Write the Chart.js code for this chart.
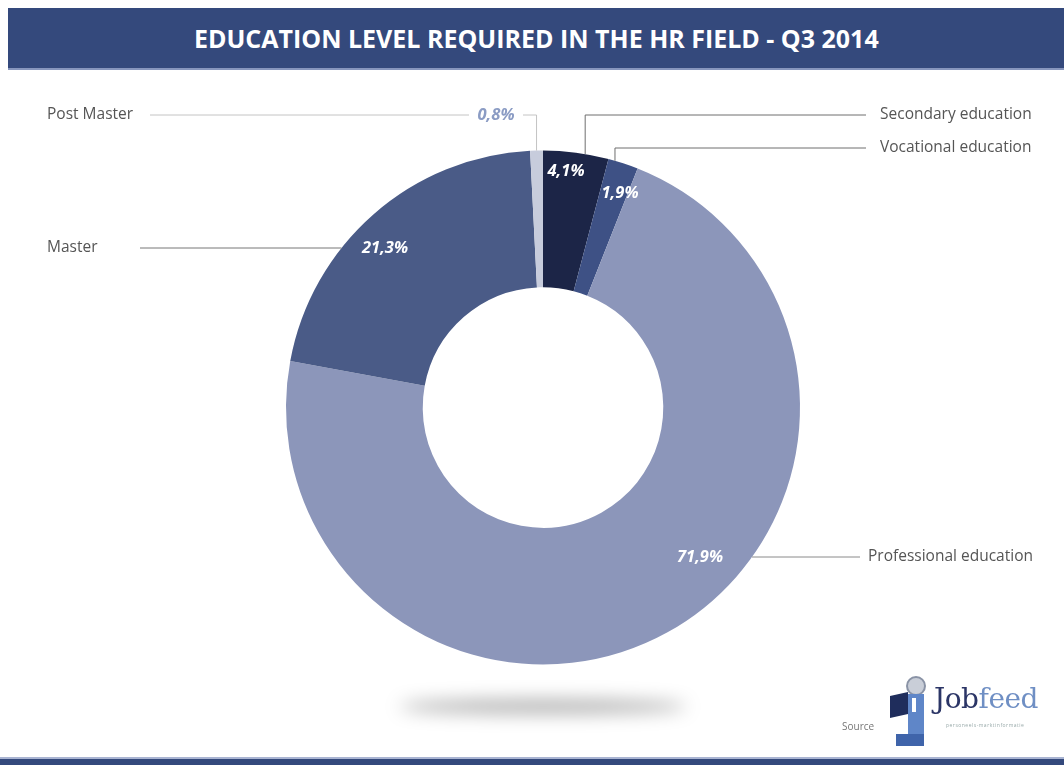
<!DOCTYPE html>
<html>
<head>
<meta charset="utf-8">
<script src="https://cdn.jsdelivr.net/npm/chart.js@4.4.1/dist/chart.umd.min.js"></script>
<style>
  html,body{margin:0;padding:0;background:#fff;width:1064px;height:765px;overflow:hidden;font-family:"Open Sans",sans-serif;}
  #titlebar{position:absolute;left:8px;top:8px;width:1056px;height:60px;background:#34497c;border-bottom:2px solid #8796bd;}
  #title{position:absolute;left:0;top:0;width:1056px;height:60px;line-height:60px;text-align:center;color:#fff;font-weight:700;font-size:25.5px;white-space:nowrap;}
  #title span{display:inline-block;transform:scaleX(0.98);transform-origin:center;}
  #bottombar{position:absolute;left:0;top:757px;width:1064px;height:8px;background:#34497c;border-top:2px solid #a9b4d2;}
  #wrap{position:absolute;left:0;top:0;width:1064px;height:765px;}
  #source{position:absolute;left:842px;top:719px;font-size:10px;color:#777;}
  #logo{position:absolute;left:888px;top:672px;width:170px;height:80px;}
  #jobfeed{position:absolute;left:46px;top:10px;font-family:"DejaVu Serif",serif;font-size:28px;letter-spacing:-0.5px;}
  #jobfeed .a{color:#2b3566;} #jobfeed .b{color:#6f8fc4;}
  #tag{position:absolute;left:58px;top:50px;font-size:5px;color:#9aa;letter-spacing:0.5px;}
</style>
</head>
<body>
<div id="wrap"><canvas id="c" width="1064" height="765"></canvas></div>
<div id="titlebar"><div id="title"><span>EDUCATION LEVEL REQUIRED IN THE HR FIELD - Q3 2014</span></div></div>
<div id="bottombar"></div>
<div id="source">Source</div>
<div id="logo">
  <div style="position:absolute;left:18px;top:4px;width:16px;height:16px;border-radius:50%;background:#c9ced8;border:2px solid #8a93a6;"></div>
  <div style="position:absolute;left:2px;top:22px;width:18px;height:22px;background:#1f2d5c;transform:skewY(-12deg);"></div>
  <div style="position:absolute;left:20px;top:22px;width:16px;height:52px;background:#5f86c8;"></div>
  <div style="position:absolute;left:8px;top:62px;width:28px;height:12px;background:#3f64aa;"></div>
  <div style="position:absolute;left:24px;top:26px;width:4px;height:14px;background:#fff;"></div>
  <div id="jobfeed"><span class="a">Job</span><span class="b">feed</span></div>
  <div id="tag">personeels-marktinformatie</div>
</div>
<script>
const categories = ["Secondary education", "Vocational education", "Professional education", "Master", "Post Master"];
const shares = [4.1, 1.9, 71.9, 21.3, 0.8];
const sliceColors = ["#1c2547", "#3e5185", "#8c96ba", "#4a5b87", "#c7ccdc"];

// annotation layout (pixels / offsets), independent of data
const layout = [
  {side:"right", labelY:115, attach:0.64, pct:{dx:23, dy:-236}, pctColor:"#fff"},
  {side:"right", labelY:148, attach:0.22, pct:{dx:77, dy:-214}, pctColor:"#fff"},
  {side:"rightH", labelY:557, pct:{dx:157, dy:150}, pctColor:"#fff"},
  {side:"leftH", labelY:248, pct:{dx:-158, dy:-159}, pctColor:"#fff"},
  {side:"leftTop", labelY:115, attach:0.5, pct:{dx:-47, dy:-292}, pctColor:"#8b9cc4"}
];

const fmt = v => v.toFixed(1).replace('.', ',') + '%';
const NAME_FONT = '15.5px "Open Sans", sans-serif';
const PCT_FONT = 'italic bold 16.5px "Open Sans", sans-serif';

const annot = {
  id: 'annot',
  beforeDatasetsDraw(chart){
    const ctx = chart.ctx;
    const a = chart.getDatasetMeta(0).data[0];
    const R = a.outerRadius;
    ctx.save();
    ctx.filter = 'blur(9px)';
    ctx.fillStyle = 'rgba(0,0,0,0.32)';
    ctx.beginPath();
    ctx.ellipse(a.x, a.y + R + 42, R*0.56, 7, 0, 0, Math.PI*2);
    ctx.fill();
    ctx.restore();
  },
  afterDatasetsDraw(chart){
    const ctx = chart.ctx;
    const arcs = chart.getDatasetMeta(0).data;
    const cx = arcs[0].x, cy = arcs[0].y, R = arcs[0].outerRadius;
    ctx.save();
    ctx.textBaseline = 'middle';
    arcs.forEach((arc, i) => {
      const L = layout[i];
      const name = categories[i];
      ctx.font = NAME_FONT;
      ctx.lineWidth = 1;
      if (L.side === 'right') {
        const ang = arc.startAngle + L.attach*(arc.endAngle - arc.startAngle);
        const px = cx + Math.cos(ang)*R, py = cy + Math.sin(ang)*R;
        ctx.strokeStyle = '#6e6e6e';
        ctx.beginPath();
        ctx.moveTo(px, py); ctx.lineTo(px, L.labelY); ctx.lineTo(866, L.labelY);
        ctx.stroke();
        ctx.fillStyle = '#555'; ctx.textAlign = 'left';
        ctx.fillText(name, 880, L.labelY);
      } else if (L.side === 'rightH') {
        const dy = L.labelY - cy;
        const ex = cx + Math.sqrt(R*R - dy*dy);
        ctx.strokeStyle = '#8a8a8a';
        ctx.beginPath(); ctx.moveTo(ex, L.labelY); ctx.lineTo(860, L.labelY); ctx.stroke();
        ctx.fillStyle = '#555'; ctx.textAlign = 'left';
        ctx.fillText(name, 868, L.labelY);
      } else if (L.side === 'leftH') {
        const dy = L.labelY - cy;
        const ex = cx - Math.sqrt(R*R - dy*dy);
        ctx.strokeStyle = '#777';
        ctx.beginPath(); ctx.moveTo(140, L.labelY); ctx.lineTo(ex, L.labelY); ctx.stroke();
        ctx.fillStyle = '#555'; ctx.textAlign = 'left';
        ctx.fillText(name, 47, L.labelY);
      } else if (L.side === 'leftTop') {
        const ang = arc.startAngle + L.attach*(arc.endAngle - arc.startAngle);
        const px = cx + Math.cos(ang)*R, py = cy + Math.sin(ang)*R;
        ctx.strokeStyle = '#c4c4c4';
        ctx.beginPath(); ctx.moveTo(150, L.labelY); ctx.lineTo(cx + L.pct.dx - 27, L.labelY); ctx.stroke();
        ctx.beginPath(); ctx.moveTo(cx + L.pct.dx + 27, L.labelY); ctx.lineTo(px, L.labelY); ctx.lineTo(px, py); ctx.stroke();
        ctx.fillStyle = '#555'; ctx.textAlign = 'left';
        ctx.fillText(name, 47, L.labelY);
      }
      ctx.font = PCT_FONT;
      ctx.fillStyle = L.pctColor; ctx.textAlign = 'center';
      ctx.fillText(fmt(shares[i]), cx + L.pct.dx, cy + L.pct.dy);
    });
    ctx.restore();
  }
};

new Chart(document.getElementById('c'), {
  type: 'doughnut',
  data: {
    labels: categories,
    datasets: [{
      data: shares,
      backgroundColor: sliceColors,
      borderWidth: 0,
      hoverOffset: 0
    }]
  },
  options: {
    responsive: false,
    animation: false,
    cutout: '46.8%',
    rotation: 0,
    layout: { padding: { left: 286, right: 264, top: 150, bottom: 100 } },
    plugins: { legend: { display: false }, tooltip: { enabled: false } }
  },
  plugins: [annot]
});
</script>
</body>
</html>
